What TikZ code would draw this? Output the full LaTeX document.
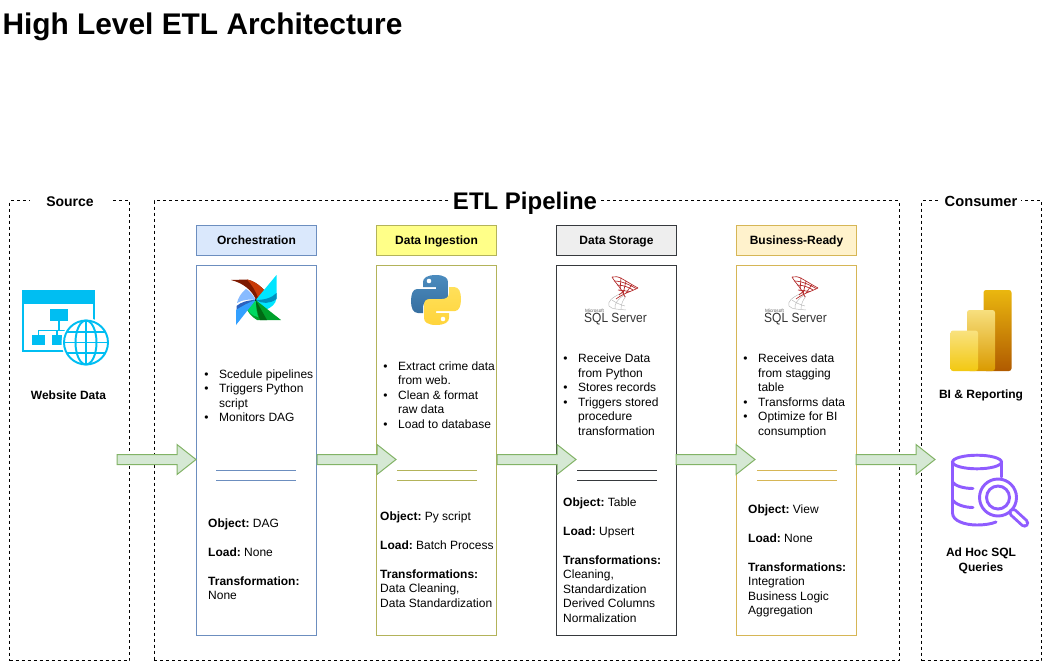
\documentclass[tikz,border=0pt]{standalone}
\usepackage{fontspec}
\setmainfont{Liberation Sans}
\usetikzlibrary{calc}
\frenchspacing
\definecolor{webblue}{HTML}{00BEF2}
\definecolor{dbpurple}{HTML}{8F5CFF}
\definecolor{arrowfill}{HTML}{D5E8D4}
\definecolor{arrowline}{HTML}{82B366}
\definecolor{cA}{HTML}{6C8EBF}\definecolor{fA}{HTML}{DAE8FC}
\definecolor{cB}{HTML}{B3B35A}\definecolor{fB}{HTML}{FFFF88}
\definecolor{cC}{HTML}{36393D}\definecolor{fC}{HTML}{EEEEEE}
\definecolor{cD}{HTML}{D6B656}\definecolor{fD}{HTML}{FFF2CC}
\definecolor{pyblue}{HTML}{366FA0}\definecolor{pyblue2}{HTML}{4B8BBE}
\definecolor{pyyel}{HTML}{FFD43B}\definecolor{pyyel2}{HTML}{FFE05A}
\definecolor{biA}{HTML}{EAB70F}\definecolor{biAb}{HTML}{B05A00}
\definecolor{biB}{HTML}{F7DF7E}\definecolor{biBb}{HTML}{DA9A00}
\definecolor{biC}{HTML}{F9E27F}\definecolor{biCb}{HTML}{F2C811}
\definecolor{pwDarkRed}{HTML}{7E1A00}\definecolor{pwRed}{HTML}{C83A08}
\definecolor{pwCyan}{HTML}{00E5FF}\definecolor{pwTeal}{HTML}{0090BE}
\definecolor{pwGreen}{HTML}{00A02B}\definecolor{pwDkGreen}{HTML}{006A14}\definecolor{pwLtGreen}{HTML}{00D860}
\definecolor{pwLtBlue}{HTML}{88BBFF}\definecolor{pwDkBlue}{HTML}{2C62C0}\definecolor{pwBlue}{HTML}{33A0FF}
\newcommand\itm{\leavevmode\llap{\textbullet\hspace{7.9pt}}}
\tikzset{
  every path/.style={line width=.75pt},
  zone/.style={draw=black,dash pattern=on 2.25pt off 2.25pt,minimum width=#1*.75pt,minimum height=345pt,inner sep=0pt},
  zonelabel/.style={fill=white,inner sep=0pt,anchor=base},
  head/.style={draw=#1,minimum width=90pt,minimum height=22.5pt,inner sep=0pt,text height=7pt,text depth=1.5pt,font=\fontsize{9}{11}\selectfont\bfseries},
  body/.style={draw=#1,minimum width=90pt,minimum height=277.5pt,inner sep=0pt},
  txt/.style={anchor=north west,inner sep=0pt,align=left,font=\fontsize{9}{10.875}\selectfont},
  captxt/.style={inner sep=0pt,align=center,font=\fontsize{9}{10.875}\selectfont\bfseries},
  fatarrow/.style={draw=arrowline,fill=arrowfill,line join=miter},
  rulecol/.style={draw=#1},
  sqlred/.style={draw=red!65!black!85,line width=.5pt},
  sqlgray/.style={draw=black!28,line width=.35pt},
  webline/.style={draw=webblue,line width=1.45pt},
  dbline/.style={draw=dbpurple,line width=2.2pt,line cap=round},
}
\newcommand\fatarrow[2]{\draw[fatarrow] ($(#1)+(0,-5)$) -- ($(#2)+(-19,-5)$) -- ($(#2)+(-19,-15)$) -- (#2) -- ($(#2)+(-19,15)$) -- ($(#2)+(-19,5)$) -- ($(#1)+(0,5)$) -- cycle;}
\newcommand\sqllogo[1]{%
\begin{scope}[xshift=#1*.75pt]
  \draw[sqlgray] (622,293) .. controls (612,297) and (607,302) .. (609,306) .. controls (612,310) and (620,309) .. (626,310);
  \draw[sqlgray] (624,295) .. controls (618,299) and (614,304) .. (615,309);
  \draw[sqlgray] (626,296) .. controls (623,300) and (621,304) .. (621,309);
  \draw[sqlgray] (612,300) .. controls (616,303) and (621,305) .. (625,306);
  \draw[sqlred] (612,277) .. controls (619,275) and (623,280) .. (638,288);
  \draw[sqlred] (612,277) .. controls (616,284) and (621,287) .. (625,297);
  \draw[sqlred] (638,288) .. controls (630,292) and (624,293) .. (616,299);
  \draw[sqlred] (614,281) .. controls (622,281) and (630,285) .. (636,288.5);
  \draw[sqlred] (617,285) .. controls (624,285) and (630,288) .. (633,290);
  \draw[sqlred] (621,277.5) -- (620,291) ;
  \draw[sqlred] (626,281) -- (623,294);
  \draw[sqlred] (632,284.5) -- (626,293);
  \draw[sqlred] (618,290) -- (630,291.5);
  \draw[sqlred] (619,295) -- (625,290);
\end{scope}}
\begin{document}
\begin{tikzpicture}[x=.75pt,y=-.75pt]
\useasboundingbox (0,0) rectangle (1042,661);
% title
\node[anchor=base west,inner sep=0pt,font=\fontsize{22.4}{26}\selectfont\bfseries] (title) at (2,34) {High Level ETL Architecture};
% zones
\node[zone=120] (source) at (69.5,430.5) {};
\node[zone=745] (etl) at (526.5,430.5) {};
\node[zone=120] (consumer) at (981.5,430.5) {};
\node[zonelabel,font=\fontsize{10.5}{12}\selectfont\bfseries,minimum width=60pt] (sourcelabel) at (70,206) {Source};
\node[zonelabel,font=\fontsize{18}{21}\selectfont\bfseries,minimum width=112pt] (etllabel) at (525,209.5) {ETL Pipeline};
\node[zonelabel,font=\fontsize{11}{13}\selectfont\bfseries,minimum width=60pt] (consumerlabel) at (981,206) {Consumer};
% columns
\node[head=cA,fill=fA] (headA) at (256.5,240.5) {Orchestration};
\node[head=cB,fill=fB] (headB) at (436.5,240.5) {Data Ingestion};
\node[head=cC,fill=fC] (headC) at (616.5,240.5) {Data Storage};
\node[head=cD,fill=fD] (headD) at (796.5,240.5) {Business-Ready};
\node[body=cA] (bodyA) at (256.5,450.5) {};
\node[body=cB] (bodyB) at (436.5,450.5) {};
\node[body=cC] (bodyC) at (616.5,450.5) {};
\node[body=cD] (bodyD) at (796.5,450.5) {};
% rules
\foreach \x/\c in {216/cA,397/cB,577/cC,757/cD}{
  \draw[rulecol=\c] (\x,470.5) -- ++(80,0);
  \draw[rulecol=\c] (\x,480.5) -- ++(80,0);
}
% bullet lists
\node[txt] (listA) at (218.7,369) {\itm Scedule pipelines\\\itm Triggers Python\\script\\\itm Monitors DAG};
\node[txt] (listB) at (397.7,361) {\itm Extract crime data\\from web.\\\itm Clean \& format\\raw data\\\itm Load to database};
\node[txt] (listC) at (577.7,353.5) {\itm Receive Data\\from Python\\\itm Stores records\\\itm Triggers stored\\procedure\\transformation};
\node[txt] (listD) at (757.7,353.5) {\itm Receives data\\from stagging\\table\\\itm Transforms data\\\itm Optimize for BI\\consumption};
% details
\node[txt] (detA) at (207.7,518) {\textbf{Object:} DAG\\[10.875pt]\textbf{Load:} None\\[10.875pt]\textbf{Transformation:}\\None};
\node[txt] (detB) at (379.7,511) {\textbf{Object:} Py script\\[10.875pt]\textbf{Load:} Batch Process\\[10.875pt]\textbf{Transformations:}\\Data Cleaning,\\Data Standardization};
\node[txt] (detC) at (562.7,497) {\textbf{Object:} Table\\[10.875pt]\textbf{Load:} Upsert\\[10.875pt]\textbf{Transformations:}\\Cleaning,\\Standardization\\Derived Columns\\Normalization};
\node[txt] (detD) at (747.7,504) {\textbf{Object:} View\\[10.875pt]\textbf{Load:} None\\[10.875pt]\textbf{Transformations:}\\Integration\\Business Logic\\Aggregation};
% captions
\node[captxt] (webcap) at (68.5,395) {Website Data};
\node[captxt] (bicap) at (981,395) {BI \& Reporting};
\node[captxt] (sqlcap) at (981,561) {Ad Hoc SQL\\Queries};
% website icon
\fill[webblue] (22,290) rectangle (95,304);
\draw[webline] (23,304) -- (23,351) -- (70,351);
\draw[webline] (94,304) -- (94,325);
\fill[webblue] (50,309) rectangle (68,321);
\fill[webblue] (32,335) rectangle (45,345);
\fill[webblue] (52,335) rectangle (62,345);
\draw[webblue,line width=1.1pt] (59,321) -- (59,330.5) (38.5,335) -- (38.5,330.5) -- (72,330.5) (57,330.5) -- (57,335);
\fill[white] (86,342.5) circle (24.5);
\draw[webline] (86,342.5) circle (22);
\draw[webline] (86,342.5) ellipse (10.5 and 22);
\draw[webline] (86,320.5) -- (86,364.5);
\draw[webline] (66,332) -- (106,332) (64,342.5) -- (108,342.5) (66,353) -- (106,353);
% pinwheel
\fill[pwDarkRed] (231,280) -- (247,279.5) .. controls (255,281) and (262,287) .. (267,293.5) -- (256,300) .. controls (252,290) and (243,283) .. cycle;
\fill[pwRed] (247,279.5) .. controls (255,281) and (262,287) .. (267,293.5) -- (258.5,299) .. controls (256,291) and (252,285) .. cycle;
\fill[pwCyan] (276.5,275) -- (255.7,300) -- (265,310) .. controls (271,308) and (276,304) .. (276.5,298) -- cycle;
\fill[pwTeal] (255.7,300) .. controls (264,300) and (272,298) .. (276.5,293) -- (276.5,299) .. controls (270,304) and (262,304) .. cycle;
\fill[pwGreen] (255.7,300) -- (281,320) -- (257,320) .. controls (252,317) and (247,312) .. (245.7,306) .. controls (248,302) and (252,300) .. cycle;
\fill[pwDkGreen] (255.7,300) -- (267,320) -- (260,320) .. controls (257,312) and (256,306) .. cycle;
\fill[pwLtGreen] (255.7,300) .. controls (250,300) and (246,303) .. (245.7,306) .. controls (248,312) and (252,316) .. (258,317) .. controls (256,310) and (256,304) .. cycle;
\fill[pwLtBlue] (255.7,300) .. controls (253,295) and (250,291) .. (246,289) .. controls (241,293) and (238,298) .. (237,303) .. controls (243,299.5) and (250,299) .. cycle;
\fill[pwDkBlue] (255.7,300) .. controls (248,300) and (241,302) .. (236.5,306) -- (236.5,312) .. controls (242,306) and (250,302) .. cycle;
\fill[pwBlue] (255.7,300) -- (236,325) -- (236,310) .. controls (242,306) and (250,302) .. cycle;
\fill[black] (255.7,300) circle (.9);
% python logo
\def\pyhalf{(436,275) .. controls (427,275) and (423,278) .. (423,282) -- (423,287) -- (436,287) -- (436,289) -- (417,289) .. controls (413,289) and (411,294) .. (411,301) .. controls (411,308) and (413,313) .. (418,313) -- (423,313) -- (423,307) .. controls (423,303) and (426,301) .. (430,301) -- (442,301) .. controls (446,301) and (448,299) .. (448,295) -- (448,282) .. controls (448,278) and (444,275) .. (436,275) -- cycle}
\shade[top color=pyblue2,bottom color=pyblue] \pyhalf;
\begin{scope}[rotate around={180:(436,300)}]
\shade[top color=pyyel2,bottom color=pyyel] \pyhalf;
\fill[white] (429,281) circle (2.3);
\end{scope}
\fill[white] (429,281) circle (2.3);
% SQL Server logos
\sqllogo{0}
\sqllogo{180}
\foreach \x/\n in {615.5/sqlA,795.5/sqlB}{
  \node[anchor=base,inner sep=0pt,xscale=.9,text height=7pt,text depth=.4pt,font=\fontsize{10}{12}\selectfont,text=black!80] (\n) at (\x,322.5) {SQL Server};
  \node[anchor=base east,inner sep=0pt,text height=2.6pt,text depth=0pt,font=\fontsize{3.5}{4}\selectfont,text=black!65] (\n m) at (\x-11,312) {Microsoft};
}
% Power BI
\shade[rounded corners=1.9pt,top color=biA,bottom color=biAb] (983.5,290) rectangle (1011.5,371);
\shade[rounded corners=1.9pt,top color=biB,bottom color=biBb] (967,310) rectangle (995,371);
\shade[rounded corners=1.9pt,top color=biC,bottom color=biCb] (950.5,330.5) rectangle (978,371);
% SQL search icon
\draw[dbline] (977,462) ellipse (24.5 and 6.8);
\draw[dbline] (952.5,462) -- (952.5,513) .. controls (952.5,521) and (965,525) .. (977,525) .. controls (984,525) and (991,524) .. (996,522);
\draw[dbline] (1001.5,462) -- (1001.5,477);
\draw[dbline] (952.5,482) .. controls (955,486) and (964,488.5) .. (973,488.5);
\draw[dbline] (952.5,500) .. controls (955,504) and (964,507.5) .. (973,507.5);
\draw[dbline] (998,497.5) circle (18.5);
\draw[dbline] (998,497.5) circle (11.5);
\draw[dbline,line width=7pt] (1013,512.5) -- (1024.5,523);
\draw[dbline,draw=white,line width=2.6pt] (1013,512.5) -- (1024.5,523);
% arrows
\coordinate (s1) at (117,459.5); \coordinate (t1) at (196,459.5);
\coordinate (s2) at (317,459.5); \coordinate (t2) at (396,459.5);
\coordinate (s3) at (497,459.5); \coordinate (t3) at (576,459.5);
\coordinate (s4) at (676,459.5); \coordinate (t4) at (755,459.5);
\coordinate (s5) at (856,459.5); \coordinate (t5) at (935,459.5);
\fatarrow{s1}{t1}\fatarrow{s2}{t2}\fatarrow{s3}{t3}\fatarrow{s4}{t4}\fatarrow{s5}{t5}
\end{tikzpicture}
\end{document}
